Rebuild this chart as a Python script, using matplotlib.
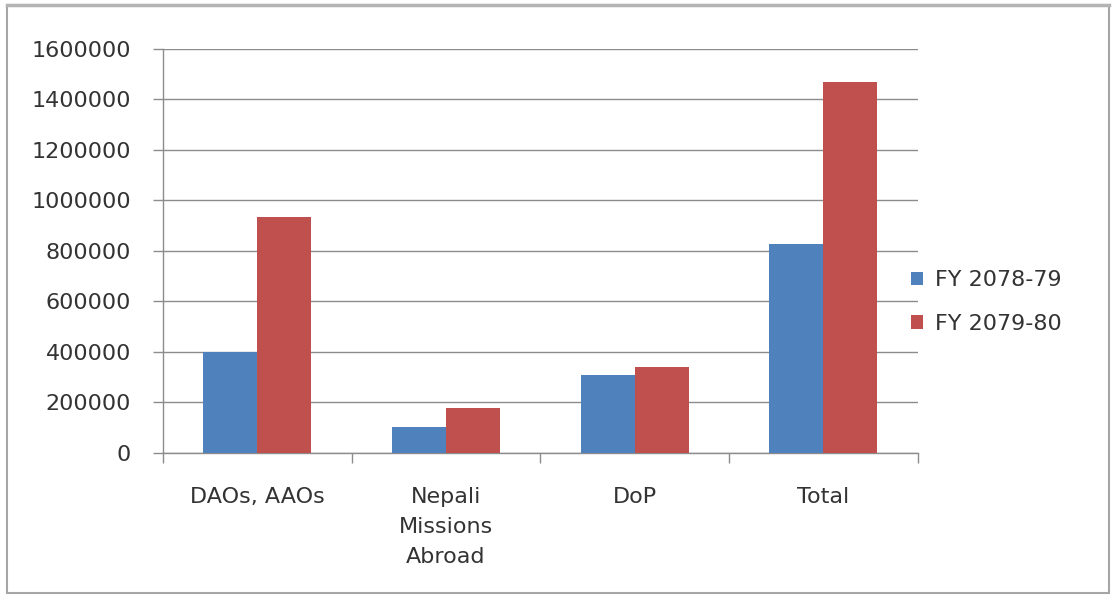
import matplotlib.pyplot as plt
import numpy as np
from matplotlib.lines import Line2D

categories = ['DAOs, AAOs', 'Nepali\nMissions\nAbroad', 'DoP', 'Total']
fy_2078_79 = [398000, 103000, 308000, 826000]
fy_2079_80 = [933000, 178000, 341000, 1468000]
series_names = ['FY 2078-79', 'FY 2079-80']
y_ticks = [0, 200000, 400000, 600000, 800000, 1000000, 1200000, 1400000, 1600000]

BLUE = '#4F81BD'
RED = '#C0504D'
TEXT = '#333333'
GRID = '#8c8c8c'

plt.rcParams['font.family'] = 'DejaVu Sans'

fig = plt.figure(figsize=(11.12, 5.96), dpi=100)
W, H = 1112, 596
ax = fig.add_axes([163 / W, 1 - 452.7 / H, 754.7 / W, 403.7 / H])

# outer chart frame
frame = plt.Rectangle((7 / W, 3 / H), 1102 / W, 588 / H, transform=fig.transFigure,
                      fill=False, edgecolor='#a6a6a6', lw=1.5)
fig.patches.append(frame)
fig.add_artist(Line2D([7 / W, 1109 / W], [1 - 5 / H, 1 - 5 / H], transform=fig.transFigure,
                      color='#b4b4b4', lw=2.5))

x = np.arange(len(categories))
w = 1 / 3.5  # gap width 150%
ax.bar(x - w / 2, fy_2078_79, w, color=BLUE, label=series_names[0], zorder=3)
ax.bar(x + w / 2, fy_2079_80, w, color=RED, label=series_names[1], zorder=3)

ax.set_xlim(-0.5, len(categories) - 0.5)
ax.set_ylim(0, 1600000)
ax.set_yticks(y_ticks)
ax.set_yticklabels([str(v) for v in y_ticks])
ax.grid(axis='y', color=GRID, lw=1, zorder=0)
ax.set_axisbelow(True)

ax.set_xticks(x)
ax.set_xticklabels(categories, linespacing=1.6)
ax.set_xticks(np.arange(-0.5, len(categories)), minor=True)
ax.tick_params(axis='x', which='major', length=0, pad=25, labelsize=16, labelcolor=TEXT)
ax.tick_params(axis='x', which='minor', length=7, width=1, color=GRID, direction='out')
ax.tick_params(axis='y', length=7, width=1, color=GRID, pad=16, labelsize=16, labelcolor=TEXT)

for side in ['top', 'right']:
    ax.spines[side].set_visible(False)
for side in ['left', 'bottom']:
    ax.spines[side].set_color(GRID)
    ax.spines[side].set_linewidth(1)

ax.legend(loc='center left', bbox_to_anchor=(1.0 - 27 / 754.7, 0.373), frameon=False,
          fontsize=16, handlelength=0.55, handleheight=0.55, handletextpad=0.55,
          labelspacing=1.05, labelcolor=TEXT)

fig.savefig('out.png', dpi=100)
